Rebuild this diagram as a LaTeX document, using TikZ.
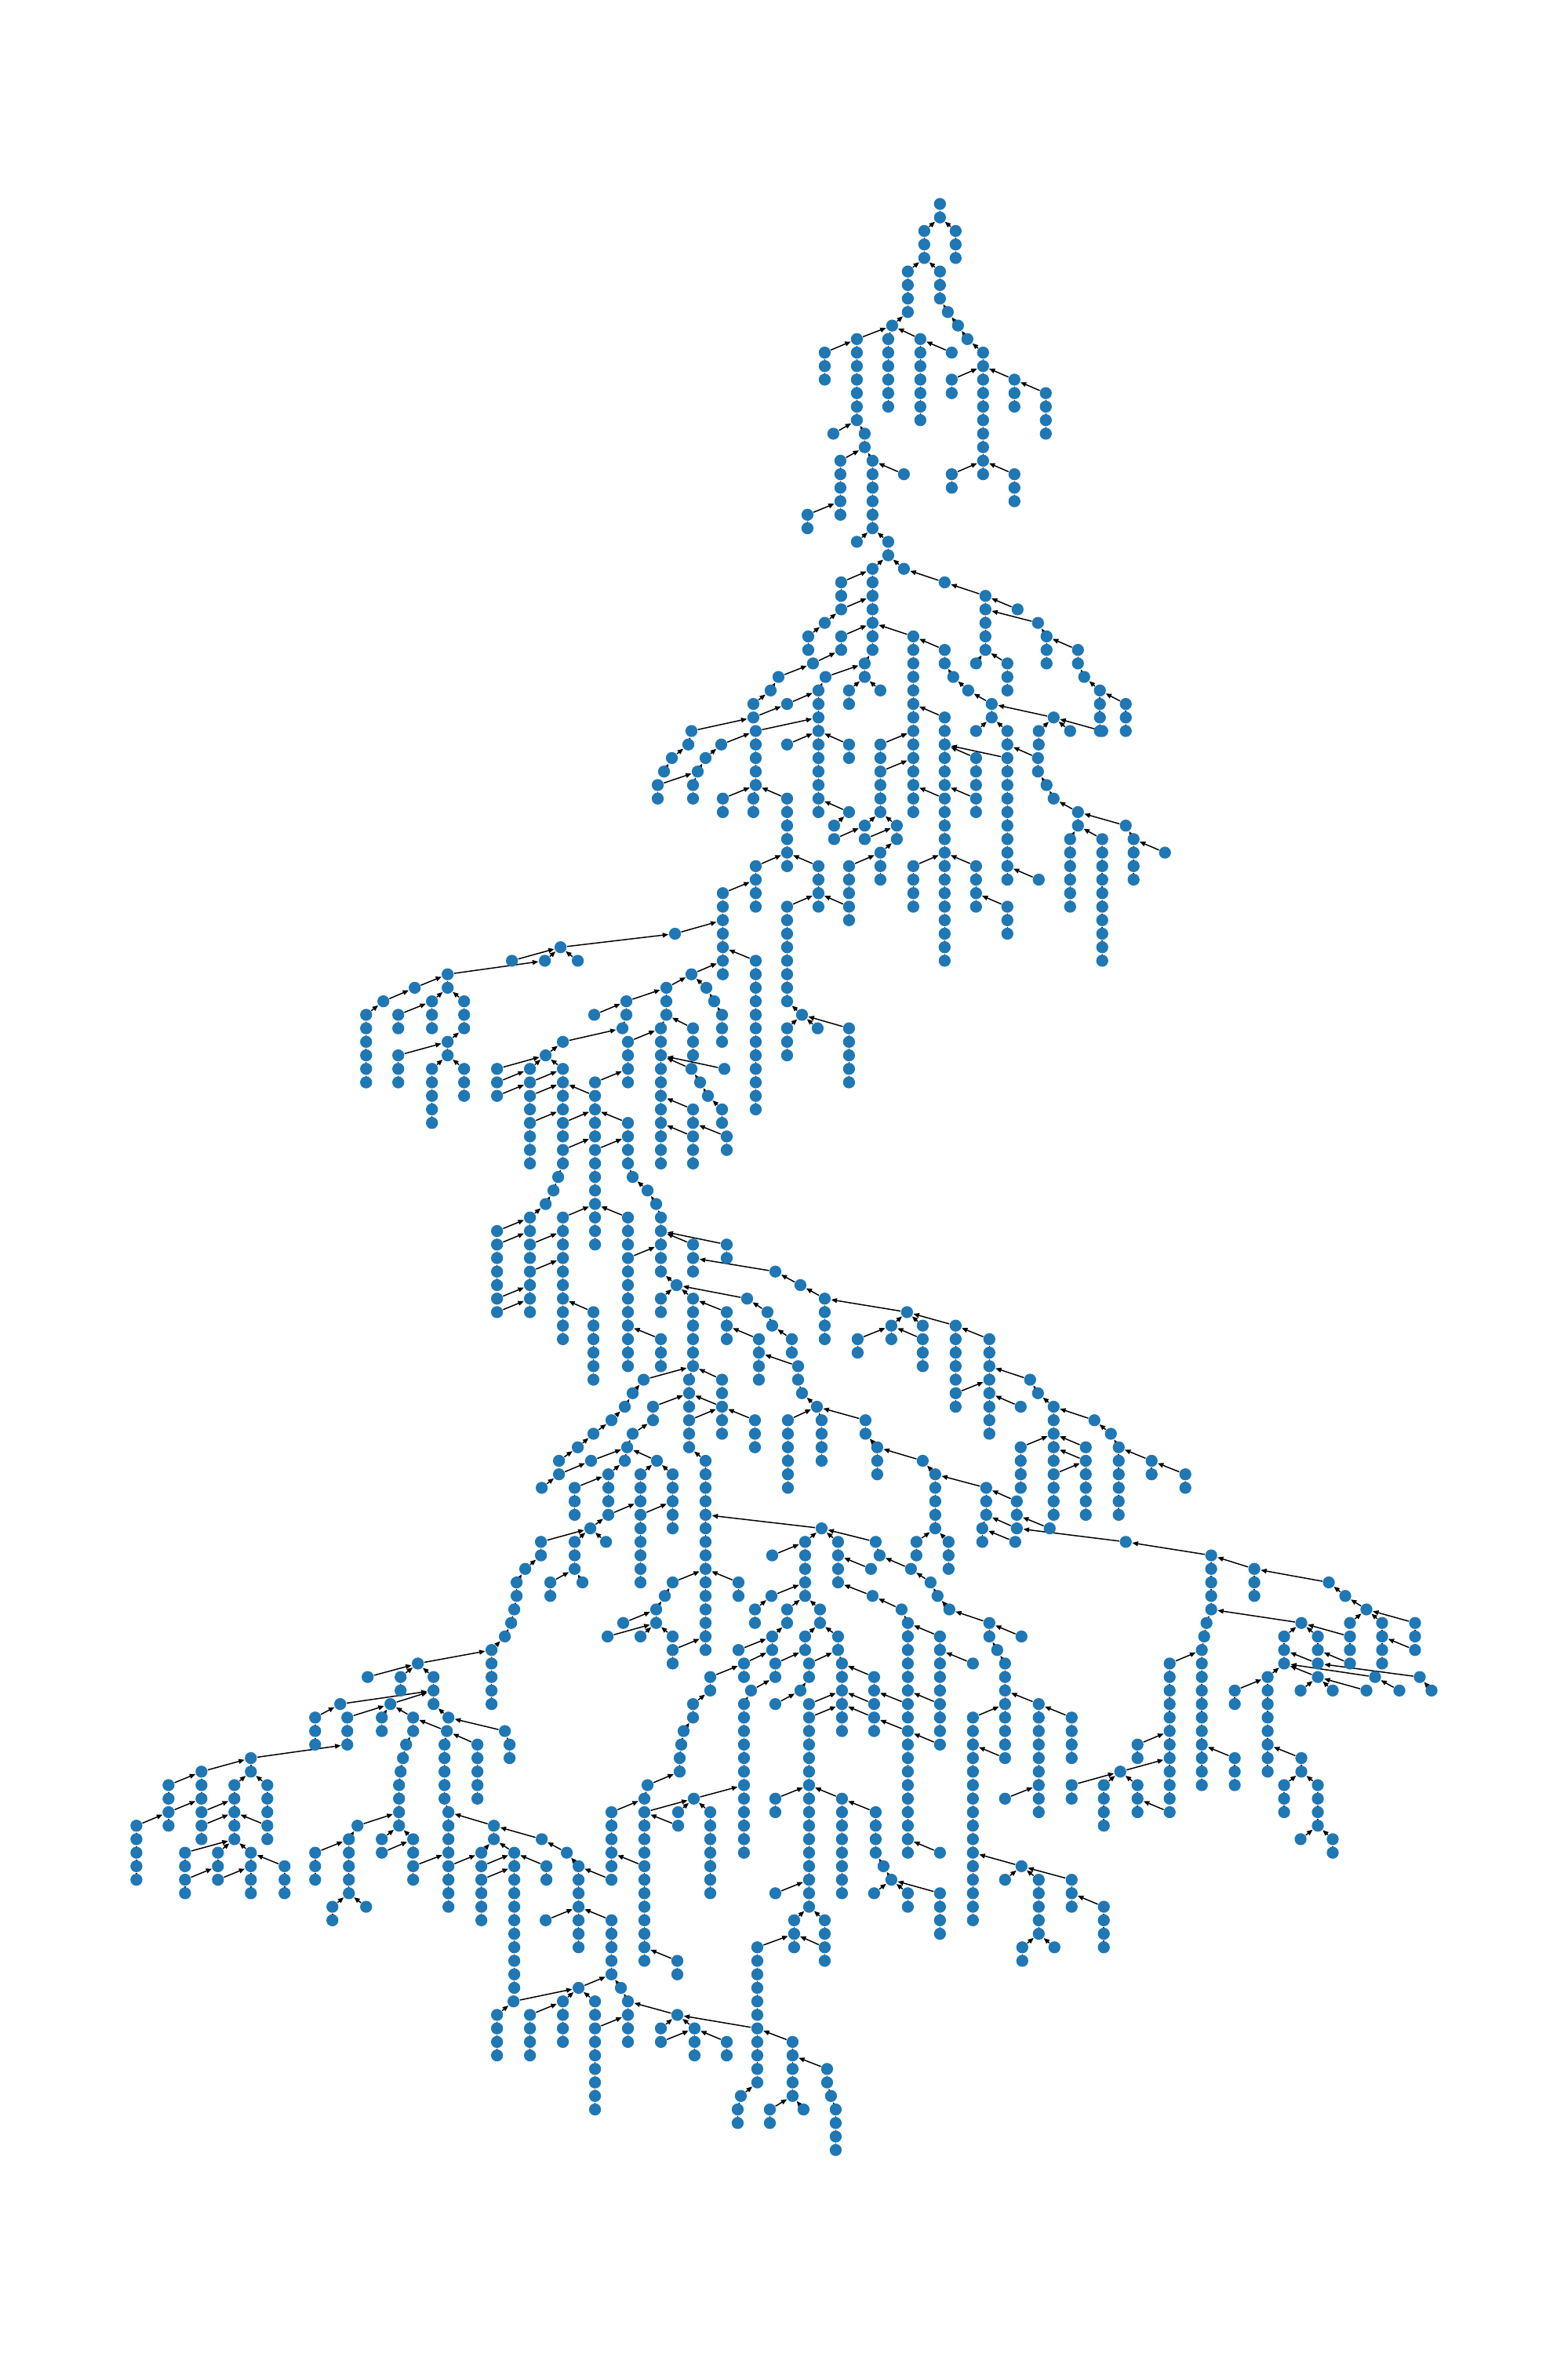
\documentclass[tikz,border=0pt]{standalone}
\usetikzlibrary{arrows.meta}
\definecolor{nodeblue}{HTML}{1F77B4}
\pgfdeclarelayer{bg}
\pgfsetlayers{bg,main}
\begin{document}
\begin{tikzpicture}[x=0.01cm,y=-0.1723cm,
  vtx/.style={circle,fill=nodeblue,draw=none,minimum size=0.153cm,inner sep=0pt},
  edge/.style={-{Triangle[length=2.1pt,width=1.7pt]},line width=0.42pt,black}]
\useasboundingbox (0,-15.09) rectangle (2000,159.02);
\def\chains{1199/0/2/0/0,1179/2/3/1199/1,1219/2/3/1199/1,1158/5/4/1179/4,1199/5/3/1179/4,1209/8/1/1199/7,1222/9/1/1209/8,1234/10/1/1222/9,1254/11/10/1234/10,1214/13/2/1254/12,1294/13/3/1254/12,1334/14/4/1294/13,1214/20/2/1254/19,1294/20/3/1254/19,1138/9/1/1158/8,1093/10/7/1138/9,1133/10/6/1138/9,1174/10/7/1138/9,1214/11/1/1174/10,1052/11/3/1093/10,1063/17/1/1093/16,1103/17/2/1093/16,1072/19/5/1103/18,1113/19/6/1103/18,1153/20/1/1113/19,1030/23/2/1072/22,1093/25/1/1113/24,1133/25/2/1113/24,
1113/27/7/1133/26,1153/27/1/1133/26,1205/28/1/1153/27,1257/29/5/1205/28,1298/30/1/1257/29,1324/31/1/1257/30,1335/32/3/1324/31,1375/33/2/1335/32,1383/35/1/1375/34,1403/36/4/1383/35,1436/37/3/1403/36,1245/34/1/1257/33,1285/34/3/1257/33,1073/28/2/1113/27,1073/30/1/1113/29,1052/31/1/1073/30,1031/32/2/1052/31,1073/32/2/1113/31,1165/32/14/1113/31,1103/34/2/1113/33,1083/36/2/1103/35,1123/36/1/1103/35,1053/35/1/1103/34,1044/36/10/1053/35,1037/34/1/1073/33,993/35/1/1037/34,983/36/1/993/35,961/37/1/983/36,1004/37/1/1044/36,961/38/1/1004/37,882/39/1/961/38,878/40/1/882/39,857/41/1/878/40,847/42/1/857/41,964/39/5/1044/38,920/40/1/964/39,900/41/1/920/40,890/42/1/900/41,884/43/2/890/42,839/43/2/890/42,922/44/2/964/43,961/44/2/964/43,1004/44/6/964/43,964/49/4/1004/48,1044/49/4/1004/48,922/51/7/964/50,861/54/1/922/53,964/56/12/922/55,882/57/1/922/56,1004/52/8/1044/51,1083/52/2/1044/51,1083/40/2/1044/39,1004/40/1/1044/39,1083/45/1/1044/44,1064/46/1/1083/45,1123/40/2/1165/39,1123/42/4/1165/41,1103/46/1/1123/45,1144/46/2/1123/45,1064/47/1/1103/46,1103/47/1/1144/46,1123/48/3/1144/47,1083/49/3/1123/48,1205/33/2/1165/32,1216/35/1/1205/34,1235/36/1/1216/35,1265/37/2/1235/36,1344/38/1/1265/37,1325/39/2/1344/38,1365/39/1/1344/38,1406/39/1/1344/38,1245/39/1/1265/38,1285/39/2/1265/38,1324/41/2/1285/40,1335/43/1/1324/42,1344/44/1/1335/43,1375/45/2/1344/44,1436/46/1/1375/45,1446/47/4/1436/46,1486/48/1/1446/47,1365/47/6/1375/46,1406/47/10/1375/46,1205/38/6/1165/37,1245/41/3/1205/40,1285/41/10/1205/40,1325/50/1/1285/49,1245/44/2/1205/43,1205/44/13/1165/43,1165/49/4/1205/48,1245/49/4/1205/48,1285/52/3/1245/51,
1023/60/1/1004/59,1004/61/3/1023/60,1043/61/1/1023/60,1083/61/5/1023/60,850/58/3/882/57,901/58/1/882/57,911/59/1/901/58,921/60/3/911/59,799/59/2/850/58,758/60/1/799/59,794/61/1/799/60,718/62/1/794/61,884/61/3/850/60,843/61/11/850/60,801/62/4/843/61,882/64/1/843/63,893/65/1/882/64,903/66/1/893/65,921/67/2/903/66,924/64/1/843/63,884/67/2/843/66,884/69/3/843/68,927/69/2/884/68,715/55/1/861/54,653/56/1/715/55,695/56/1/715/55,737/56/1/715/55,571/57/2/695/56,529/58/1/571/57,489/59/1/529/58,467/60/6/489/59,551/59/3/571/58,508/60/2/551/59,592/59/3/571/58,571/62/2/592/61,508/63/3/571/62,551/64/5/571/63,592/64/3/571/63,696/63/1/718/62,634/64/1/696/63,676/64/1/696/63,718/64/4/696/63,634/65/1/676/64,634/66/1/676/65,676/65/1/718/64,676/66/2/718/65,676/68/4/718/67,759/65/1/801/64,759/66/4/718/65,801/68/4/759/67,718/68/2/759/67,718/70/2/759/69,759/70/8/801/69,712/72/1/718/71,706/73/1/712/72,696/74/1/706/73,676/75/2/696/74,634/76/1/676/75,634/77/4/676/76,676/77/2/718/76,718/75/10/759/74,801/75/3/759/74,807/72/1/801/71,826/73/1/807/72,837/74/1/826/73,843/75/5/837/74,884/77/3/843/76,927/77/2/843/76,801/78/9/843/77,
676/79/4/718/78,634/81/1/676/80,634/82/1/676/81,757/82/6/718/81,843/84/3/801/83,989/79/1/884/78,1021/80/1/989/79,1052/81/4/1021/80,863/80/1/843/79,843/81/2/863/80,884/81/6/863/80,953/81/1/863/80,979/82/1/953/81,985/83/1/979/82,1010/84/2/985/83,927/82/3/884/81,968/84/4/927/83,1018/86/2/968/85,1023/88/1/1018/87,1042/89/1/1023/88,1005/90/6/1042/89,1048/90/4/1042/89,879/87/3/884/86,821/87/1/884/86,921/87/2/884/86,807/88/1/821/87,797/89/1/807/88,780/90/1/797/89,757/91/1/780/90,737/92/1/757/91,713/93/1/737/92,833/89/2/879/88,921/89/3/879/88,879/90/3/921/89,963/90/3/921/89,900/93/15/879/92,807/91/1/833/90,800/92/1/807/91,754/93/1/800/92,797/93/1/800/92,838/93/1/800/92,713/94/1/754/93,691/95/1/713/94,776/94/3/797/93,733/95/3/776/94,817/94/3/838/93,858/94/5/838/93,817/97/6/858/96,776/97/1/817/96,753/98/1/776/97,690/99/2/753/98,733/99/3/753/98,773/99/1/753/98,1048/98/1/900/97,1027/99/5/1048/98,985/100/1/1027/99,1069/99/4/1048/98,1117/99/1/1048/98,
1157/82/1/1052/81,1137/83/2/1157/82,1094/84/2/1137/83,1177/83/1/1157/82,1177/84/3/1137/83,1219/83/5/1157/82,1262/84/8/1219/83,1314/87/1/1262/86,1219/88/2/1262/87,1302/89/1/1262/88,1324/88/1/1314/87,1344/89/5/1324/88,1396/90/1/1344/89,1417/91/1/1396/90,1427/92/6/1417/91,1469/93/2/1427/92,1512/94/2/1469/93,1302/92/4/1344/91,1385/92/1/1344/91,1385/93/5/1344/92,1344/94/4/1385/93,1104/90/2/1042/89,1119/92/3/1104/91,1177/93/1/1119/92,1193/94/5/1177/93,1258/95/3/1193/94,1253/98/2/1258/97,1297/96/2/1258/95,1297/98/1/1258/97,1295/99/1/1253/98,1436/99/1/1297/98,1545/100/5/1436/99,1339/98/1/1297/97,1169/99/2/1193/98,1210/99/3/1193/98,1122/100/1/1117/99,
743/102/1/733/101,702/102/2/733/101,858/102/1/900/101,942/102/2/900/101,848/103/1/858/102,837/104/2/848/103,795/105/1/837/104,775/106/1/837/105,817/106/1/837/105,858/106/1/837/105,858/107/2/900/106,984/103/1/1027/102,963/104/2/984/103,1004/104/2/1027/103,1046/104/2/1027/103,985/106/2/1004/105,942/107/1/985/106,949/108/2/985/107,906/109/2/949/108,884/111/2/906/110,872/113/1/884/112,869/114/1/872/113,867/115/2/869/114,826/117/1/867/116,822/118/1/826/117,780/119/5/822/118,822/119/4/885/118,822/123/8/780/122,865/119/1/885/118,865/120/1/822/119,885/118/1/949/117,906/119/7/885/118,780/124/1/738/123,723/122/1/691/121,738/123/7/723/122,989/111/1/1021/110,958/110/1/989/109,949/111/12/958/110,989/108/2/1027/107,1027/106/2/1046/105,1069/106/2/1046/105,1032/108/2/1069/107,1021/110/1/1032/109,1074/108/6/1069/107,1115/109/2/1074/108,1032/111/1/1074/110,1115/111/1/1074/110,1032/112/15/1074/111,1115/112/2/1074/111,1111/101/1/1069/100,1113/103/1/1069/102,1150/104/1/1113/103,1158/105/6/1150/104,1158/111/2/1115/110,1158/113/10/1115/112,1199/106/5/1158/105,1199/111/3/1158/110,1241/108/1/1199/107,1199/114/1/1158/113,1199/122/1/1158/121,1162/101/1/1122/100,1187/102/1/1162/101,1196/103/1/1187/102,1211/104/1/1196/103,1262/105/2/1211/104,1272/107/1/1262/106,1282/108/7/1272/107,1303/106/1/1262/105,1325/111/9/1282/110,1367/112/4/1325/111,1241/112/16/1282/111,1282/115/1/1241/114,1282/118/1/1325/117,1303/123/1/1241/122,1282/124/1/1303/123,1325/124/5/1303/123,1367/124/3/1303/123,1408/126/4/1367/125,1304/129/2/1325/128,1345/129/1/1325/128,989/118/2/1032/117,1074/118/8/1032/117,1117/119/4/1074/118,1127/123/1/1117/122,1137/124/1/1127/123,1115/125/1/1137/124,1158/125/2/1137/124,1199/125/4/1137/124,989/125/1/1032/124,
670/101/1/690/100,659/102/2/670/101,656/104/1/659/103,652/105/1/656/104,644/106/1/652/105,627/107/5/644/106,533/108/1/627/107,469/109/1/533/108,511/109/2/533/108,553/109/3/533/108,434/111/1/553/110,498/111/1/553/110,572/112/1/553/111,644/113/1/572/112,650/114/2/644/113,527/112/2/498/111,570/113/1/527/112,567/114/5/570/113,609/114/5/570/113,572/119/4/567/118,630/120/2/572/119,691/121/1/630/120,614/122/1/630/121,656/122/11/630/121,697/123/2/656/122,614/123/1/656/122,614/124/4/656/123,572/123/4/614/122,527/123/2/572/122,518/114/1/527/113,514/115/1/518/114,511/116/1/514/115,509/117/4/511/116,456/120/1/509/119,487/121/1/509/120,527/121/2/509/120,487/122/1/527/121,445/121/5/456/120,402/122/3/445/121,424/126/2/445/125,467/126/1/445/125,402/112/3/434/111,443/112/3/498/111,487/112/2/498/111,320/115/2/443/114,257/116/3/320/115,215/117/2/257/116,215/119/2/257/118,174/120/5/215/119,299/117/5/320/116,341/117/3/320/116,257/119/1/299/118,257/120/2/299/119,341/120/2/299/119,236/122/2/299/121,278/122/2/299/121,320/122/4/299/121,236/124/2/278/123,278/124/1/320/123,363/123/3/320/122,
1600/101/3/1545/100,1695/102/1/1600/101,1716/103/1/1695/102,1743/104/1/1716/103,1722/105/1/1743/104,1763/105/4/1743/104,1805/105/2/1743/104,1805/107/1/1763/106,1539/105/1/1545/104,1536/106/1/1539/105,1533/107/11/1536/106,1660/105/1/1545/104,1638/106/3/1660/105,1681/106/2/1660/105,1722/106/2/1660/105,1722/108/1/1681/107,1681/108/1/1638/107,1681/109/1/1638/108,1617/109/8/1638/108,1754/109/1/1638/108,1811/109/1/1681/108,1659/110/1/1681/109,1700/110/1/1681/109,1743/110/1/1681/109,1785/110/1/1754/109,1826/110/1/1811/109,1575/110/2/1617/109,1660/115/2/1617/114,1638/117/3/1660/116,1681/117/4/1660/116,1659/121/1/1681/120,1700/121/2/1681/120,1492/108/11/1533/107,1575/115/3/1533/114,1451/114/2/1492/113,1429/116/1/1492/115,1367/117/2/1429/116,1408/117/4/1429/116,1451/117/3/1429/116,1492/119/1/1451/118,
696/127/1/738/126,780/127/5/738/126,738/132/1/780/131,792/132/1/780/131,801/133/4/792/132,864/134/1/801/133,843/135/1/864/134,886/135/3/864/134,843/136/1/886/135,966/135/5/864/134,655/133/1/738/132,634/134/4/655/133,718/133/4/738/132,676/134/4/718/133,759/133/2/738/132,759/135/7/801/134,864/130/2/822/129,927/136/2/886/135,1013/127/3/1032/126,1052/127/2/1032/126,966/129/6/1013/128,1052/129/2/1013/128,945/140/1/966/139,941/141/2/945/140,1011/136/5/966/135,1055/138/2/1011/137,1060/140/1/1055/139,1066/141/4/1060/140,982/141/2/1011/140,1025/141/1/1011/140}
\foreach \x/\r/\n/\px/\pr in \chains {
  \foreach \k in {1,...,\n} {
    \pgfmathtruncatemacro\rr{\r+\k-1}
    \node[vtx] (n-\x-\rr) at (\x,\rr) {};
  }
}
\begin{pgfonlayer}{bg}
\foreach \x/\r/\n/\px/\pr in \chains {
  \ifnum\px>0 \draw[edge] (n-\x-\r) -- (n-\px-\pr);\fi
  \ifnum\n>1
    \foreach \k in {2,...,\n} {
      \pgfmathtruncatemacro\rr{\r+\k-1}
      \pgfmathtruncatemacro\rp{\r+\k-2}
      \draw[edge] (n-\x-\rr) -- (n-\x-\rp);
    }
  \fi
}
\end{pgfonlayer}
\end{tikzpicture}
\end{document}
